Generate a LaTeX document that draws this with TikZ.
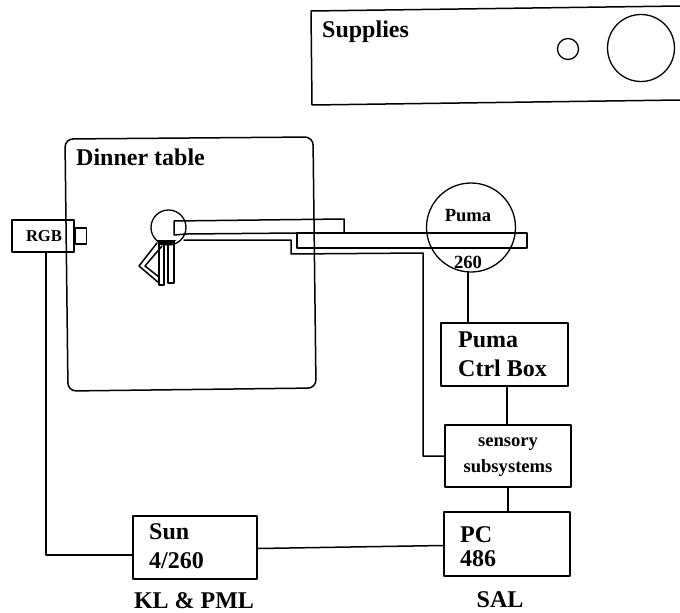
\documentclass[tikz,border=0pt]{standalone}
\usepackage{fontspec}
\setmainfont{Liberation Serif}
\tikzset{
  lw/.style={line width=1.5pt,line join=round,line cap=round},
  boxnode/.style={draw,lw,rectangle,inner sep=0pt},
  ring/.style={draw,line width=1.3pt,circle,inner sep=0pt},
  lab/.style={anchor=base west,inner sep=0pt,font=\fontsize{24}{24}\selectfont\bfseries},
  labc/.style={anchor=base,inner sep=0pt,font=\fontsize{24}{24}\selectfont\bfseries},
  labs/.style={anchor=base,inner sep=0pt,font=\fontsize{18.6}{18.6}\selectfont\bfseries},
}
\begin{document}
\begin{tikzpicture}[x=1pt,y=-1pt]
\useasboundingbox (0,0) rectangle (680,613);
% Supplies panel (runs off the right edge)
\draw[lw] (680,6) -- (311,11) -- (312,105) -- (680,100);
\node[lab] (tsup) at (322,37) {Supplies};
\node[ring,minimum size=21pt] (small) at (568,49) {};
\node[ring,minimum size=67pt] (big) at (641,48) {};
% Dinner table
\draw[lw,rounded corners=8pt] (65,139) -- (313,137) -- (316,388) -- (68,391) -- cycle;
\node[lab] (ttab) at (76,165) {Dinner table};
% Camera
\node[boxnode,minimum width=62pt,minimum height=32pt] (rgb) at (43,236) {};
\node[labs,font=\fontsize{16.6}{16.6}\selectfont\bfseries] (trgb) at (44,241) {RGB};
\node[boxnode,minimum width=11pt,minimum height=16pt,anchor=west] (lens) at (rgb.east) {};
% Small arm at the table
\node[ring,minimum size=35pt] (wrist) at (168.5,227.5) {};
\draw[lw] (344,233) -- (344,219) -- (174,221) -- (174,235) -- (186,234);
\coordinate (cableA) at (184,240);
\coordinate (cableB) at (291,240);
\coordinate (cableC) at (291,254);
% Gripper
\draw[lw] (159,243) -- (159,285) -- (164,285) -- (164,243);
\draw[lw] (168,243) -- (168,283) -- (174,283) -- (174,241);
\draw[lw] (157,243) -- (139,266) -- (159,283);
\draw[lw] (162,246) -- (145,266) -- (159,277);
\fill (157,240) -- (176,240) -- (172,244) -- (159,245) -- cycle;
% Puma
\node[ring,minimum size=89pt] (puma) at (471,227.5) {};
\node[labs] (tpuma) at (468,221) {Puma};
\node[labs] (t260) at (468,268) {260};
\draw[lw] (297,233) rectangle (527,248);
\draw[lw] (186,234) -- (297,233);
% Boxes
\node[boxnode,minimum width=127pt,minimum height=63pt] (ctrl) at (504.5,354.5) {};
\node[lab] (tc1) at (458,347) {Puma};
\node[lab] (tc2) at (458,376) {Ctrl Box};
\node[boxnode,minimum width=126pt,minimum height=62pt] (sens) at (508,456) {};
\node[labs] (ts1) at (508,446) {sensory};
\node[labs] (ts2) at (508,472) {subsystems};
\node[boxnode,minimum width=126pt,minimum height=64pt] (pc) at (507,544) {};
\node[lab] (tp1) at (460,542) {PC};
\node[lab] (tp2) at (460,566) {486};
\node[labc] (tsal) at (500,607) {SAL};
\node[boxnode,minimum width=124pt,minimum height=63pt] (sun) at (195,547.5) {};
\node[lab] (tn1) at (149,539) {Sun};
\node[lab] (tn2) at (149,568) {4/260};
\node[labc] (tkl) at (194,608) {KL \& PML};
% Connectors
\draw[lw] (cableA) -- (cableB) -- (cableC) -- (423,253) coordinate (cableD) -- (cableD |- sens.west) -- (sens.west);
\draw[lw] ([xshift=-3pt]puma.south) -- ([xshift=-36.5pt]ctrl.north);
\draw[lw] ([xshift=2.5pt]ctrl.south) -- ([xshift=-1pt]sens.north);
\draw[lw] (sens.south) -- (sens.south |- pc.north);
\draw[lw] ([yshift=-1pt]sun.east) -- (pc.west |- 0,545.5);
\draw[lw] ([xshift=3pt]rgb.south) -- ([xshift=3pt]rgb.south |- 0,555) -- (sun.west |- 0,555);
\end{tikzpicture}
\end{document}
